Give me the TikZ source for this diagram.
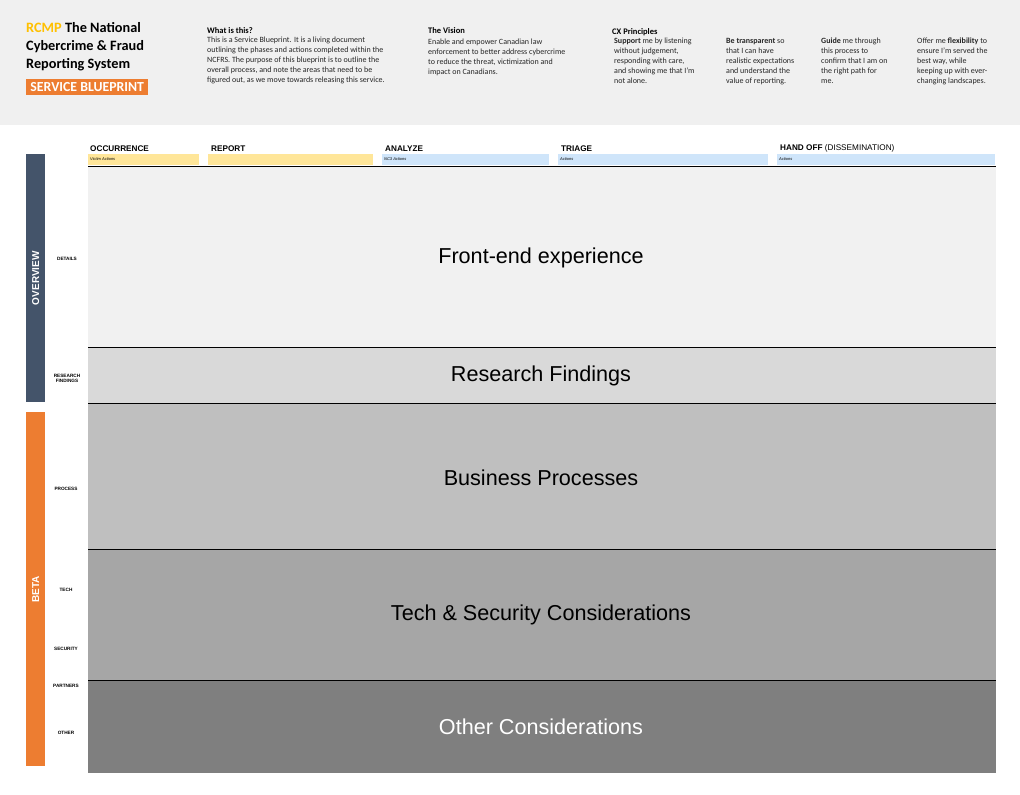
\documentclass[tikz,border=0pt]{standalone}
\usepackage{fontspec}
\setmainfont{Carlito}
\newfontfamily\helv{Liberation Sans}
\begin{document}
\definecolor{headbg}{HTML}{F0F0F0}
\definecolor{bandA}{HTML}{F1F1F1}
\definecolor{bandB}{HTML}{D9D9D9}
\definecolor{bandC}{HTML}{BFBFBF}
\definecolor{bandD}{HTML}{A6A6A6}
\definecolor{bandE}{HTML}{7F7F7F}
\definecolor{rcmpyellow}{HTML}{FFC000}
\definecolor{bporange}{HTML}{ED7D31}
\definecolor{ovblue}{HTML}{44546A}
\definecolor{victimbar}{HTML}{FFE699}
\definecolor{agencybar}{HTML}{CFE5FA}
\begin{tikzpicture}[x=1pt,y=-1pt,
  intro/.style={anchor=north west,align=left,inner sep=0pt,font=\fontsize{8}{10}\selectfont,text=black!85},
  introhead/.style={anchor=north west,inner sep=0pt,font=\fontsize{8.5}{10}\selectfont\bfseries},
  phase/.style={anchor=south west,inner sep=0pt,font=\helv\fontsize{8.2}{9}\selectfont\bfseries},
  barlabel/.style={anchor=west,inner sep=0pt,font=\helv\fontsize{4}{4}\selectfont\itshape},
  rowlabel/.style={align=center,inner sep=0pt,font=\helv\fontsize{4.7}{5.2}\selectfont\bfseries},
  bandtext/.style={font=\helv\fontsize{21.6}{24}\selectfont},
  sidebar/.style={anchor=north west,inner sep=0pt,minimum width=19pt},
  sidetext/.style={rotate=90,text=white,font=\helv\fontsize{10}{11}\selectfont\bfseries}]
\useasboundingbox (0,0) rectangle (1020,795);
\fill[white] (0,0) rectangle (1020,795);
% header strip
\fill[headbg] (0,0) rectangle (1020,125);

% title block
\node[anchor=north west,align=left,inner sep=0pt,font=\fontsize{14.3}{18}\selectfont\bfseries] (title) at (26,22.5)
  {\textcolor{rcmpyellow}{RCMP} The National\\Cybercrime \& Fraud\\Reporting System};
\node[anchor=north west,fill=bporange,text=white,inner sep=0pt,minimum width=122pt,minimum height=16pt,
  font=\fontsize{13.8}{14}\selectfont\bfseries] (sb) at (26,79) {SERVICE BLUEPRINT};

% intro texts
\node[introhead] (whathead) at (207,27) {What is this?};
\node[intro] (what) at (207,37) {This is a Service Blueprint. It is a living document\\outlining the phases and actions completed within the\\NCFRS. The purpose of this blueprint is to outline the\\overall process, and note the areas that need to be\\figured out, as we move towards releasing this service.};
\node[introhead] (vishead) at (428,27) {The Vision};
\node[intro] (vis) at (428,39) {Enable and empower Canadian law\\enforcement to better address cybercrime\\to reduce the threat, victimization and\\impact on Canadians.};
\node[introhead] (cxhead) at (612,28) {CX Principles};
\node[intro] (cx1) at (614,38) {\textbf{Support} me by listening\\without judgement,\\responding with care,\\and showing me that I'm\\not alone.};
\node[intro] (cx2) at (726,38) {\textbf{Be transparent} so\\that I can have\\realistic expectations\\and understand the\\value of reporting.};
\node[intro] (cx3) at (821,38) {\textbf{Guide} me through\\this process to\\confirm that I am on\\the right path for\\me.};
\node[intro] (cx4) at (917,38) {Offer me \textbf{flexibility} to\\ensure I'm served the\\best way, while\\keeping up with ever-\\changing landscapes.};

% phase headers
\node[phase] (occ) at (90,152) {OCCURRENCE};
\node[phase] (rep) at (211,152) {REPORT};
\node[phase] (ana) at (385,152) {ANALYZE};
\node[phase] (tri) at (561,152) {TRIAGE};
\node[phase] (hand) at (780,152) {HAND OFF \textmd{(DISSEMINATION)}};

% actor bars
\fill[victimbar] (88,154) rectangle (199,165);
\fill[victimbar] (208,154) rectangle (373,165);
\fill[agencybar] (382,154) rectangle (549,165);
\fill[agencybar] (558,154) rectangle (768,165);
\fill[agencybar] (777,154) rectangle (995,165);
\node[barlabel] (va) at (90,159.5) {Victim Actions};
\node[barlabel] (nca) at (384,159.5) {NC3 Actions};
\node[barlabel] (ta) at (560,159.5) {Actions};
\node[barlabel] (ha) at (779,159.5) {Actions};

% swimlane bands
\fill[bandA] (88,166) rectangle (996,347);
\fill[bandB] (88,347) rectangle (996,403);
\fill[bandC] (88,403) rectangle (996,549);
\fill[bandD] (88,549) rectangle (996,680);
\fill[bandE] (88,680) rectangle (996,773);
\draw[line width=1pt] (88,166) -- (996,166);
\foreach \yy in {347,403,549,680} \draw[line width=0.7pt] (88,\yy) -- (996,\yy);

\node[bandtext] (fe) at (541,258) {Front-end experience};
\node[bandtext] (rf) at (541,376) {Research Findings};
\node[bandtext] (bp) at (541,478) {Business Processes};
\node[bandtext] (ts) at (541,615) {Tech \& Security Considerations};
\node[bandtext,text=white] (oc) at (541,727) {Other Considerations};

% side stage bars
\node[sidebar,fill=ovblue,minimum height=248pt] (ov) at (26,154) {};
\node[sidetext] at (ov.center) {OVERVIEW};
\node[sidebar,fill=bporange,minimum height=354pt] (beta) at (26,412) {};
\node[sidetext] at (beta.center) {BETA};

% row labels
\node[rowlabel] (rdet) at (67,259) {DETAILS};
\node[rowlabel] (rres) at (67,378) {RESEARCH\\FINDINGS};
\node[rowlabel] (rpro) at (66,489) {PROCESS};
\node[rowlabel] (rtec) at (66,590) {TECH};
\node[rowlabel] (rsec) at (66,649) {SECURITY};
\node[rowlabel] (rpar) at (66,686) {PARTNERS};
\node[rowlabel] (roth) at (66,733) {OTHER};
\end{tikzpicture}
\end{document}
